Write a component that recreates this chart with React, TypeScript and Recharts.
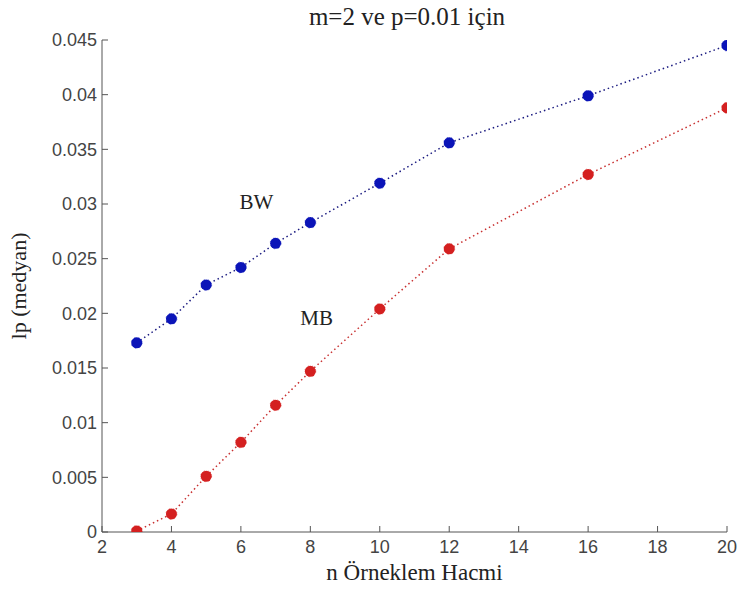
import { LineChart, Line, XAxis, YAxis, ReferenceDot, Label } from "recharts";

// n values (sample size) and the median lp for each method
const nValues = [3, 4, 5, 6, 7, 8, 10, 12, 16, 20];
const bwValues = [0.0173, 0.0195, 0.0226, 0.0242, 0.0264, 0.0283, 0.0319, 0.0356, 0.0399, 0.0445];
const mbValues = [0.0001, 0.00165, 0.0051, 0.0082, 0.0116, 0.0147, 0.0204, 0.0259, 0.0327, 0.0388];

const xTicks = [2, 4, 6, 8, 10, 12, 14, 16, 18, 20];
const yTicks = [0, 0.005, 0.01, 0.015, 0.02, 0.025, 0.03, 0.035, 0.04, 0.045];

const data = nValues.map((n, i) => ({ n, bw: bwValues[i], mb: mbValues[i] }));

const serif = "Liberation Serif, Times New Roman, serif";
const sans = "Liberation Sans, Arial, sans-serif";
const tickStyle = { fontFamily: sans, fontSize: 18, fill: "#444" };
const noteStyle = { fontFamily: serif, fontSize: 21, fill: "#222" };

export default function App() {
  return (
    <div style={{ position: "absolute", left: 0, top: 0, background: "#fff" }}>
      <LineChart
        width={739}
        height={590}
        data={data}
        margin={{ top: 40, right: 12, bottom: 28, left: 42 }}
      >
        <text
          x={407}
          y={25}
          textAnchor="middle"
          style={{ fontFamily: serif, fontSize: 25, fill: "#222" }}
        >
          m=2 ve p=0.01 için
        </text>
        <XAxis
          dataKey="n"
          type="number"
          domain={[2, 20]}
          ticks={xTicks}
          allowDataOverflow
          height={30}
          stroke="#555"
          tickSize={-6}
          tickMargin={14}
          tick={tickStyle}
        >
          <Label
            value="n Örneklem Hacmi"
            position="bottom"
            offset={2}
            style={{ fontFamily: serif, fontSize: 23, fill: "#222" }}
          />
        </XAxis>
        <YAxis
          type="number"
          domain={[0, 0.045]}
          ticks={yTicks}
          allowDataOverflow
          width={60}
          stroke="#555"
          tickSize={-6}
          tickMargin={11}
          tick={tickStyle}
        >
          <Label
            value="lp (medyan)"
            angle={-90}
            position="left"
            offset={24}
            style={{ fontFamily: serif, fontSize: 22, fill: "#222", textAnchor: "middle" }}
          />
        </YAxis>
        <Line
          dataKey="bw"
          stroke="#1a1a80"
          strokeWidth={1.5}
          strokeDasharray="1.5 3"
          dot={{ r: 5.5, fill: "#0b14b8", stroke: "#0b14b8", strokeWidth: 0.5 }}
          isAnimationActive={false}
        />
        <Line
          dataKey="mb"
          stroke="#c83030"
          strokeWidth={1.5}
          strokeDasharray="1.5 3"
          dot={{ r: 5.5, fill: "#d42020", stroke: "#d42020", strokeWidth: 0.5 }}
          isAnimationActive={false}
        />
        <ReferenceDot x={6.45} y={0.0302} r={0} fill="none" stroke="none">
          <Label value="BW" position="center" style={noteStyle} />
        </ReferenceDot>
        <ReferenceDot x={8.18} y={0.0196} r={0} fill="none" stroke="none">
          <Label value="MB" position="center" style={noteStyle} />
        </ReferenceDot>
      </LineChart>
    </div>
  );
}
